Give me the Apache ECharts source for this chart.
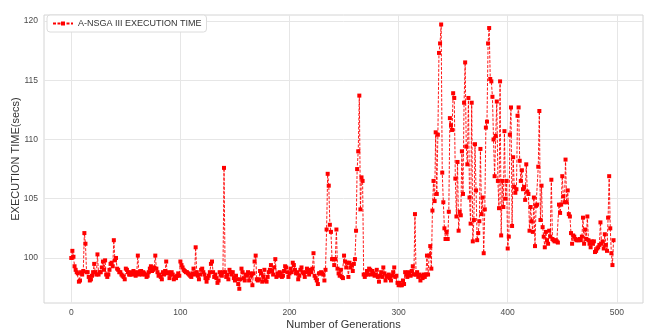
<!DOCTYPE html>
<html>
<head>
<meta charset="utf-8">
<script src="https://cdn.jsdelivr.net/npm/echarts@6/dist/echarts.min.js"></script>
<style>
  html, body { margin: 0; background: #fff; }
  #chart { width: 653px; height: 334px; }
</style>
</head>
<body>
<div id="chart"></div>
<script>
  const seriesName = "A-NSGA III EXECUTION TIME";
  const xTicks = [0, 100, 200, 300, 400, 500];
  const yTicks = [100, 105, 110, 115, 120];

  // execution time per generation (gen = index)
  const execTime = [
    100.0, 100.6, 100.1, 99.3, 99.0, 98.8, 98.7, 98.0, 98.1, 98.8,
    98.6, 98.9, 102.1, 101.2, 98.8, 98.8, 98.4, 98.1, 98.2, 98.5,
    98.8, 99.5, 98.8, 98.6, 100.3, 98.6, 98.8, 98.8, 99.2, 99.7,
    99.0, 99.8, 98.6, 98.4, 98.6, 99.0, 99.5, 99.6, 99.3, 101.5,
    99.8, 100.0, 99.1, 99.0, 98.8, 98.8, 98.6, 98.5, 98.4, 98.2,
    99.1, 99.0, 98.8, 98.6, 98.6, 98.8, 98.6, 98.9, 98.7, 98.5,
    98.8, 100.2, 98.6, 98.8, 98.9, 98.6, 98.8, 98.7, 98.6, 98.4,
    98.5, 98.8, 99.1, 99.3, 98.9, 99.0, 99.2, 100.2, 99.1, 98.8,
    98.5, 98.6, 98.4, 98.2, 98.8, 98.6, 98.9, 99.7, 98.7, 98.8,
    98.3, 98.6, 98.8, 98.6, 98.2, 98.4, 98.3, 98.5, 98.7, 98.5,
    99.7, 99.4, 99.2, 99.0, 98.9, 98.8, 98.8, 98.7, 98.6, 98.5,
    98.4, 98.7, 99.1, 98.6, 100.9, 98.8, 98.5, 98.2, 98.6, 99.0,
    99.1, 98.8, 98.6, 98.3, 98.0, 98.3, 98.5, 98.8, 99.5, 99.7,
    98.8, 98.4, 98.6, 98.3, 97.9, 98.1, 98.8, 98.6, 98.5, 98.8,
    107.6, 98.8, 98.4, 98.6, 98.2, 99.0, 98.8, 98.6, 98.8, 98.3,
    98.1, 98.5, 98.2, 97.8, 97.4, 98.2, 99.1, 98.8, 98.3, 98.1,
    98.6, 98.5, 98.8, 98.1, 98.7, 98.5, 97.7, 98.7, 99.7, 100.2,
    98.2, 98.1, 98.2, 98.9, 98.7, 98.0, 98.4, 99.0, 98.1, 98.0,
    98.4, 98.8, 99.0, 99.4, 98.9, 98.6, 99.2, 99.9, 98.4, 98.7,
    98.5, 98.8, 98.7, 98.4, 98.5, 98.9, 99.3, 99.2, 98.8, 98.4,
    98.7, 99.1, 98.8, 99.6, 99.4, 99.0, 98.7, 98.8, 98.2, 98.5,
    99.0, 99.2, 98.8, 98.7, 98.4, 98.8, 99.1, 98.9, 98.6, 99.0,
    98.8, 99.1, 100.4, 98.5, 98.3, 98.1, 97.8, 98.7, 98.7, 98.8,
    98.7, 98.6, 98.1, 99.0, 102.4, 107.1, 106.1, 102.8, 102.2, 99.9,
    99.9, 99.4, 99.9, 102.4, 99.1, 98.7, 98.5, 99.0, 98.4, 98.3,
    100.2, 99.7, 99.2, 99.6, 98.4, 99.6, 99.2, 99.4, 98.9, 99.5,
    99.9, 102.3, 107.5, 109.0, 113.7, 104.1, 106.8, 106.5, 98.6, 98.4,
    98.6, 98.9, 98.6, 99.1, 99.0, 98.6, 98.9, 98.7, 98.5, 98.6,
    99.0, 98.4, 98.0, 98.5, 98.8, 98.4, 99.2, 98.7, 98.1, 98.4,
    98.5, 98.6, 98.3, 98.1, 98.5, 98.8, 99.2, 98.4, 98.5, 97.9,
    97.7, 97.9, 97.7, 97.7, 98.1, 97.8, 98.8, 98.6, 98.4, 98.8,
    98.6, 98.5, 98.9, 99.3, 98.6, 103.7, 98.6, 98.8, 98.4, 98.6,
    98.1, 98.5, 98.3, 98.6, 98.4, 98.6, 100.2, 98.6, 100.2, 101.0,
    99.1, 104.0, 106.5, 104.8, 110.6, 105.4, 110.4, 117.3, 118.1, 119.7,
    107.2, 104.7, 102.5, 101.6, 102.2, 101.6, 103.9, 111.8, 111.2, 110.8,
    113.9, 113.5, 106.7, 103.5, 108.1, 102.3, 103.9, 103.6, 109.0, 105.4,
    113.1, 116.5, 109.4, 107.9, 113.5, 105.1, 102.9, 113.1, 101.4, 103.2,
    109.6, 105.7, 101.5, 102.1, 103.1, 109.2, 103.7, 105.1, 100.4, 104.1,
    111.0, 111.5, 118.1, 119.4, 115.1, 114.9, 113.6, 110.0, 106.9, 110.3,
    113.2, 106.5, 104.2, 114.9, 101.9, 106.5, 104.3, 110.7, 105.0, 106.5,
    100.8, 101.8, 110.4, 112.7, 102.7, 108.5, 106.0, 105.5, 105.8, 112.0,
    112.7, 108.2, 106.5, 107.4, 105.8, 106.0, 104.9, 107.9, 105.6, 105.4,
    102.3, 104.3, 103.1, 102.2, 105.1, 101.0, 104.4, 104.5, 107.7, 112.4,
    103.2, 106.1, 102.6, 101.8, 100.9, 102.2, 101.5, 101.2, 102.3, 101.8,
    106.6, 101.6, 101.5, 101.4, 101.5, 101.4, 101.3, 104.5, 103.8, 104.5,
    106.9, 105.2, 104.7, 108.3, 104.7, 105.7, 103.7, 103.5, 102.1, 101.2,
    101.9, 101.8, 101.6, 101.5, 101.5, 101.5, 101.6, 101.5, 101.8, 103.4,
    101.2, 102.4, 101.6, 103.5, 101.5, 101.2, 100.9, 101.4, 101.2, 101.4,
    100.5, 100.6, 100.8, 100.9, 101.1, 103.0, 101.2, 101.4, 100.8, 102.0,
    101.1, 100.6, 103.4, 106.9, 102.5, 100.4, 99.4, 101.5
  ];

  const chart = echarts.init(document.getElementById("chart"), null, { renderer: "canvas" });

  const labelStyle = { color: "#4a4a4a", fontSize: 8.5, fontFamily: "Liberation Sans" };
  const nameStyle = { color: "#333", fontSize: 11, fontFamily: "Liberation Sans" };
  const gridLine = { show: true, lineStyle: { color: "#e6e6e6", width: 1 } };

  chart.setOption({
    animation: false,
    backgroundColor: "#fff",
    grid: {
      left: 44,
      right: 10,
      top: 15,
      bottom: 31,
      containLabel: false,
      outerBoundsMode: "none",
      show: true,
      borderColor: "#d4d4d4",
      borderWidth: 1,
    },
    legend: {
      left: 47,
      top: 15,
      padding: [4, 5],
      itemWidth: 20,
      itemHeight: 5,
      itemGap: 6,
      backgroundColor: "#fff",
      borderColor: "#dcdcdc",
      borderWidth: 1,
      borderRadius: 3,
      textStyle: { color: "#333", fontSize: 9, fontFamily: "Liberation Sans" },
      data: [seriesName],
    },
    xAxis: {
      type: "value",
      min: -25,
      max: 524,
      name: "Number of Generations",
      nameLocation: "middle",
      nameGap: 16,
      nameMoveOverlap: false,
      nameTextStyle: nameStyle,
      axisLine: { show: false },
      axisTick: { show: false, customValues: xTicks },
      axisLabel: Object.assign({ margin: 5, customValues: xTicks }, labelStyle),
      splitLine: gridLine,
    },
    yAxis: {
      type: "value",
      min: 96.2,
      max: 120.5,
      name: "EXECUTION TIME(secs)",
      nameLocation: "middle",
      nameRotate: 90,
      nameGap: 23,
      nameMoveOverlap: false,
      nameTextStyle: nameStyle,
      axisLine: { show: false },
      axisTick: { show: false, customValues: yTicks },
      axisLabel: Object.assign({ margin: 6, customValues: yTicks }, labelStyle),
      splitLine: gridLine,
    },
    series: [
      {
        name: seriesName,
        type: "line",
        data: execTime.map((v, i) => [i, v]),
        symbol: "rect",
        symbolSize: 4,
        showSymbol: true,
        showAllSymbol: true,
        itemStyle: { color: "#ff0000" },
        lineStyle: { color: "#ff0000", width: 0.9, type: [3, 1.5] },
      },
    ],
  });
</script>
</body>
</html>
